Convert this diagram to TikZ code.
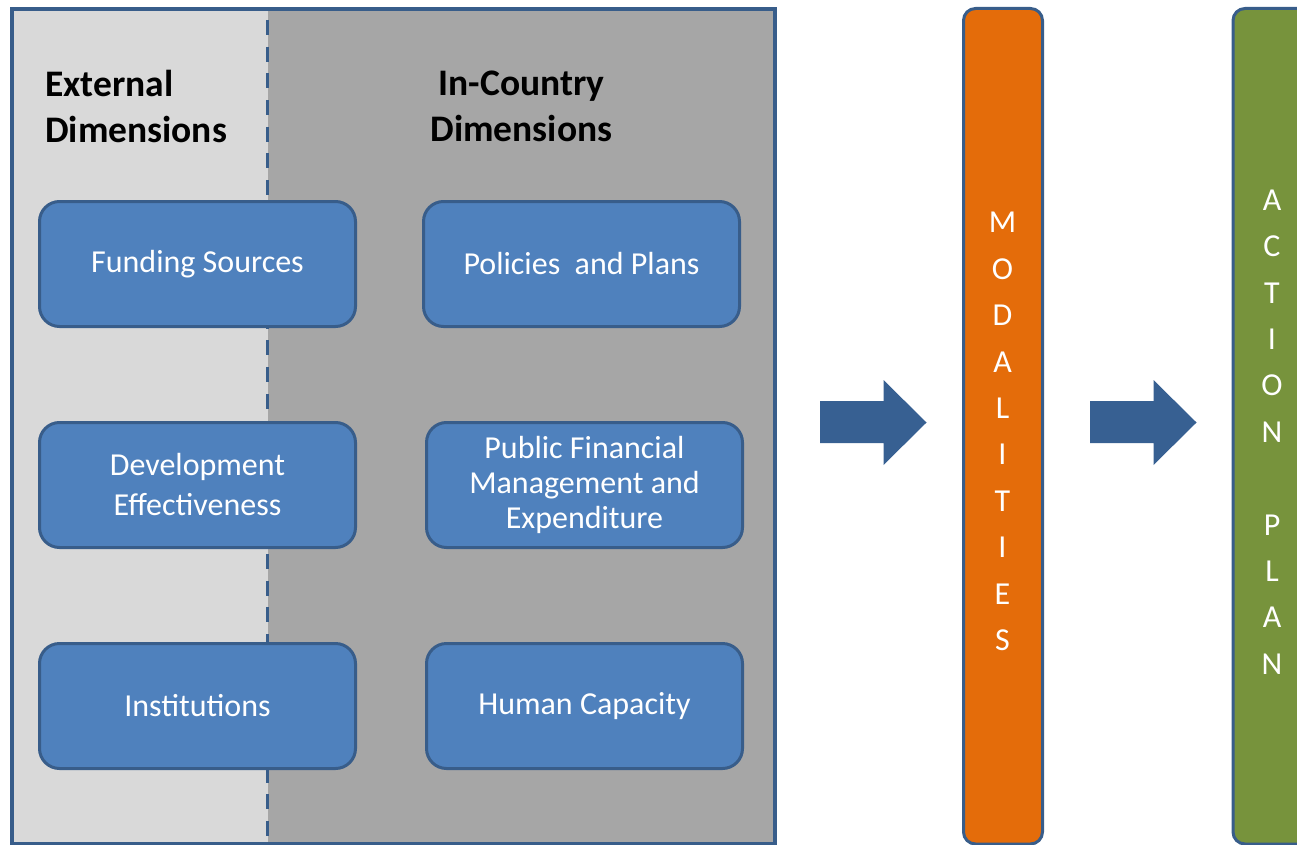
\documentclass[tikz,border=0pt]{standalone}
\usepackage{fontspec}
\setmainfont{Carlito}
\usetikzlibrary{positioning}

\definecolor{boxblue}{HTML}{4F81BD}
\definecolor{edgeblue}{HTML}{385D8A}
\definecolor{arrowblue}{HTML}{376092}
\definecolor{extgray}{HTML}{D9D9D9}
\definecolor{incgray}{HTML}{A6A6A6}
\definecolor{modorange}{HTML}{E46C0A}
\definecolor{plangreen}{HTML}{77933C}

\tikzset{
    dimbox/.style={draw=edgeblue, line width=3pt, fill=boxblue, rounded corners=20pt,
        minimum width=316pt, minimum height=125pt, text=white, align=center,
        font=\fontsize{32}{35}\selectfont},
    heading/.style={inner sep=0pt, font=\bfseries\fontsize{37.5}{46}\selectfont},
    bar/.style={draw=edgeblue, line width=3pt, rounded corners=12pt},
    barletters/.style={inner sep=0pt, text=white, align=center,
        font=\fontsize{32}{46.4}\selectfont},
    blockarrow/.style={fill=arrowblue}
}

\begin{document}
\begin{tikzpicture}[x=1pt, y=-1pt, node distance=221pt, on grid]
    \useasboundingbox (0,0) rectangle (1297,845);

    % dimensions panel
    \fill[extgray] (12,9) rectangle (267.5,843.5);
    \fill[incgray] (267.5,9) rectangle (774.5,843.5);
    \draw[edgeblue, line width=3.5pt, dash pattern=on 15pt off 11.7pt] (267.5,20) -- (267.5,843);
    \draw[edgeblue, line width=4pt] (12,9) rectangle (774.5,843.5);

    \node[heading, align=left, anchor=west] (ext) at (45,106.5) {External\\Dimensions};
    \node[heading, align=center] (inc) at (521.5,106.5) {In-Country\\Dimensions};

    \node[dimbox] (fund) at (197.5,264) {Funding Sources};
    \node[dimbox] (dev) [below=of fund] {Development\\[5pt]Effectiveness};
    \node[dimbox] (inst) [below=of dev] {Institutions};
    \node[dimbox] (pol) [right=384pt of fund] {Policies\ \ and Plans};
    \node[dimbox] (pfm) [right=387pt of dev] {Public Financial\\Management and\\Expenditure};
    \node[dimbox] (hum) [right=387pt of inst] {Human Capacity};

    % block arrows
    \foreach \x in {820,1090} {
        \fill[blockarrow] (\x,401) -- (\x+63.5,401) -- (\x+63.5,380) -- (\x+106.5,422.5)
            -- (\x+63.5,465) -- (\x+63.5,443) -- (\x,443) -- cycle;
    }

    % modalities and action plan
    \draw[bar, fill=modorange] (963.5,8.5) rectangle (1042.5,844);
    \draw[bar, fill=plangreen] (1233,8.5) rectangle (1340,844);

    \node[barletters] (mod) at (1002.5,431.5) {M\\O\\D\\A\\L\\I\\T\\I\\E\\S};
    \node[barletters] (plan) at (1272,432) {A\\C\\T\\I\\O\\N\\[46.4pt]P\\L\\A\\N};
\end{tikzpicture}
\end{document}
